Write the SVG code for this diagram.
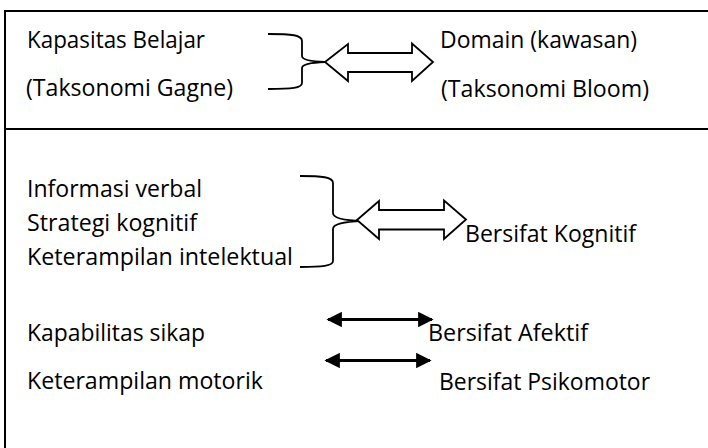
<svg xmlns="http://www.w3.org/2000/svg" width="708" height="448" viewBox="0 0 708 448">
  <defs>
    <marker id="head" viewBox="0 0 10 10" refX="9" refY="5" markerWidth="5.5" markerHeight="5.5" orient="auto-start-reverse" markerUnits="strokeWidth">
      <path d="M0,0 L10,5 L0,10 Z" fill="#000"/>
    </marker>
  </defs>
  <style>
    text { font-family: "Open Sans", "Liberation Sans", sans-serif; font-size: 23px; fill: #000; }
    .frame { stroke: #000; stroke-width: 2; fill: none; }
    .brace { stroke: #000; stroke-width: 1.8; fill: none; }
    .hollow { stroke: #000; stroke-width: 1.8; fill: #fff; stroke-linejoin: miter; }
    .solid { stroke: #000; stroke-width: 2.8; fill: none; marker-start: url(#head); marker-end: url(#head); }
  </style>
  <rect width="708" height="448" fill="#fff"/>

  <!-- table frame -->
  <g id="frame">
    <line class="frame" x1="5" y1="11" x2="708" y2="11"/>
    <line class="frame" x1="5" y1="10" x2="5" y2="448"/>
    <line class="frame" x1="5" y1="129" x2="708" y2="129"/>
  </g>

  <!-- header row -->
  <g id="gagne">
    <text x="27" y="48" textLength="178" lengthAdjust="spacingAndGlyphs">Kapasitas Belajar</text>
    <text x="26" y="96" textLength="207" lengthAdjust="spacingAndGlyphs">(Taksonomi Gagne)</text>
  </g>
  <g id="bloom">
    <text x="440" y="48" textLength="197" lengthAdjust="spacingAndGlyphs">Domain (kawasan)</text>
    <text x="441" y="97" textLength="208" lengthAdjust="spacingAndGlyphs">(Taksonomi Bloom)</text>
  </g>

  <!-- left-hand capability list -->
  <g id="informasi-verbal"><text x="27" y="197" textLength="175" lengthAdjust="spacingAndGlyphs">Informasi verbal</text></g>
  <g id="strategi-kognitif"><text x="27" y="231" textLength="170" lengthAdjust="spacingAndGlyphs">Strategi kognitif</text></g>
  <g id="keterampilan-intelektual"><text x="27" y="265" textLength="266" lengthAdjust="spacingAndGlyphs">Keterampilan intelektual</text></g>
  <g id="kapabilitas-sikap"><text x="27" y="341" textLength="178" lengthAdjust="spacingAndGlyphs">Kapabilitas sikap</text></g>
  <g id="keterampilan-motorik"><text x="27" y="389" textLength="236" lengthAdjust="spacingAndGlyphs">Keterampilan motorik</text></g>

  <!-- right-hand domains -->
  <g id="kognitif"><text x="465" y="242" textLength="171" lengthAdjust="spacingAndGlyphs">Bersifat Kognitif</text></g>
  <g id="afektif"><text x="428" y="341" textLength="160" lengthAdjust="spacingAndGlyphs">Bersifat Afektif</text></g>
  <g id="psikomotor"><text x="439" y="390" textLength="211" lengthAdjust="spacingAndGlyphs">Bersifat Psikomotor</text></g>

  <!-- braces and arrows -->
  <g id="connectors">
    <path class="brace" d="M268,34 C292,34 302,35 302,41 L302,56 C302,60 312,61.5 325,62 C312,62.5 302,64 302,68 L302,83 C302,88 292,89 268,89"/>
    <polygon class="hollow" points="325,62 348,44 348,53 412,53 412,43.5 433,62 412,81 412,72 348,72 348,81"/>

    <path class="brace" d="M300,176 C322,176 333,177 333,183 L333,213 C333,218 345,220.5 362,221 C345,221.5 333,224 333,229 L333,261 C333,266 322,267 300,267"/>
    <polygon class="hollow" points="357,220 379,201 379,210 444,210 444,200.5 466,219.5 444,239 444,229.5 379,229.5 379,239"/>

    <line class="solid" x1="328" y1="319.5" x2="432" y2="319.5"/>
    <line class="solid" x1="326" y1="360.5" x2="430" y2="360.5"/>
  </g>
</svg>
